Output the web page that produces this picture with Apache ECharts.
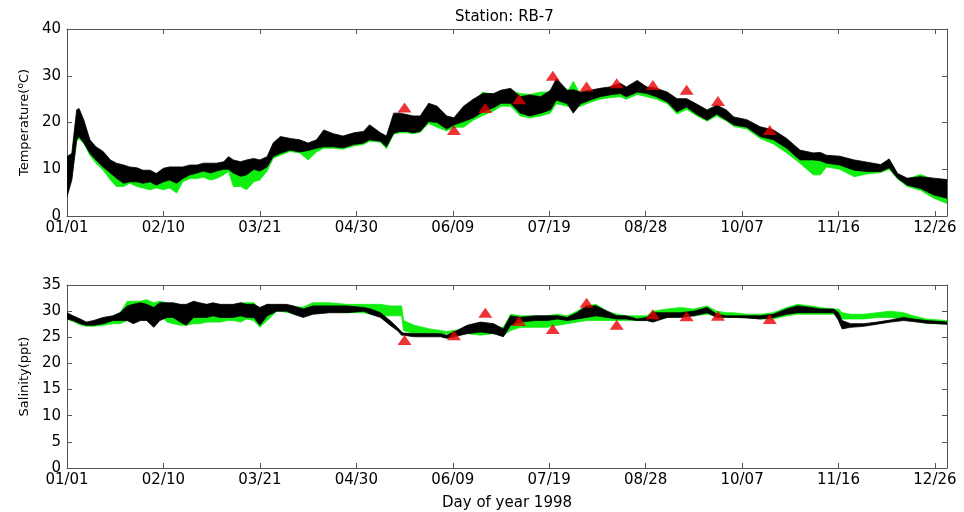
<!DOCTYPE html>
<html>
<head>
<meta charset="utf-8">
<script src="https://cdn.jsdelivr.net/npm/echarts@6/dist/echarts.min.js"></script>
<style>
  html, body { margin: 0; padding: 0; background: #fff; }
  #chart { width: 964px; height: 512px; }
</style>
</head>
<body>
<div id="chart"></div>
<script>
// Station RB-7, 1998: continuous sensor records (black, green) shown as daily ranges,
// plus discrete grab samples (red triangles).

const xTickLabels = ['01/01', '02/10', '03/21', '04/30', '06/09', '07/19', '08/28', '10/07', '11/16', '12/26'];

// ---- Temperature (deg C): day of year and low/high range of each record ----
const tempDays = [
  0, 2, 4, 5, 7, 9.5, 12, 15, 18, 20.5,
  23.5, 26, 29, 31.5, 34.5, 37, 40, 42.5, 45.5, 48,
  51, 54, 56.5, 59.5, 62, 65, 67, 69, 72, 74.5,
  77.5, 80, 83, 85.5, 88.5, 92.5, 96.5, 100, 103.5, 106.5,
  110.5, 114.5, 119, 123, 125.5, 130, 132.5, 135.5, 138, 141,
  143.5, 146.5, 150, 153.5, 157.5, 160.5, 164.5, 168.5, 172.5, 177,
  180, 184, 188, 192, 196.5, 200.5, 203, 207.5, 210, 213,
  217, 221, 225, 229.5, 232, 236.5, 240.5, 244.5, 249, 253,
  257, 261, 265.5, 269.5, 273.5, 276.5, 282, 287.5, 293, 298.5,
  304, 309.5, 312.5, 315, 320.5, 326.5, 332, 337.5, 341, 344.5,
  348.5, 354, 359.5, 365
];
const tempBlackLo = [
  4.1, 7.7, 16.3, 17, 15.6, 13.4, 12, 10.5, 9.2, 8.1,
  7, 7.3, 7.3, 7, 7.3, 6.6, 7.3, 7.7, 7, 8,
  8.8, 9.2, 9.6, 9.2, 9.6, 10, 10, 9.2, 8.5, 8.8,
  10, 9.6, 10.5, 12.7, 13.4, 14.1, 13.7, 14, 14.5, 14.8,
  14.8, 14.6, 15.3, 15.6, 16.3, 16, 14.8, 17.7, 18.1, 18.1,
  17.8, 18.1, 20.2, 20, 18.6, 19.5, 20.2, 21, 22.3, 23.2,
  24.1, 24.1, 22, 21.4, 22, 22.7, 24.8, 24, 22, 24,
  24.8, 25.5, 25.9, 26.2, 25.5, 26.5, 26.2, 25.5, 24.4, 22.3,
  23.3, 21.8, 20.5, 21.8, 20.5, 19.5, 19, 17, 16.3, 14.5,
  12, 12, 11.8, 11.3, 10.9, 9.8, 9.5, 9.5, 10.3, 8.1,
  6.6, 5.9, 4.5, 3.8
];
const tempBlackHi = [
  12.7, 13.4, 22.7, 23, 20.5, 16.3, 14.8, 13.8, 12, 11.3,
  10.9, 10.5, 10.3, 9.8, 9.8, 9.1, 10.2, 10.5, 10.5, 10.5,
  10.9, 10.9, 11.3, 11.3, 11.3, 11.6, 12.7, 12, 11.6, 12,
  12.3, 12, 12.7, 15.6, 17, 16.6, 16.3, 15.6, 16.3, 18.4,
  17.6, 17.1, 17.8, 18.1, 19.5, 17.8, 17.1, 22, 22, 21.7,
  21.4, 21.4, 24.1, 23.5, 21.4, 21, 23.5, 25, 26.2, 26.2,
  26.9, 27.3, 25.5, 25.9, 25.5, 26.9, 29.4, 26.9, 27, 26.5,
  26.9, 27.3, 27.6, 28.4, 27.6, 29, 27.6, 27.3, 26.5, 25.1,
  25.1, 24, 22.7, 23.7, 22.7, 21.2, 20.6, 19.1, 18.4, 16.6,
  14.1, 13.5, 13.6, 13, 12.8, 12, 11.5, 11, 12.2, 9.1,
  8.1, 8.4, 8.1, 7.8
];
const tempGreenLo = [
  5, 8, 16, 16.5, 15.5, 13, 11.3, 9.8, 7.7, 6.3,
  6.3, 7, 6.3, 6, 5.6, 6, 5.6, 6, 4.9, 7.3,
  8, 8, 8.3, 7.7, 8, 8.8, 9.5, 6.3, 6.3, 5.6,
  7.3, 7.7, 9.6, 12.3, 13, 13.8, 13.5, 12, 13.7, 14.5,
  14.5, 14.3, 15, 15.3, 16, 15.8, 14.4, 17.5, 17.8, 17.8,
  17.6, 17.9, 19.8, 19, 18.2, 19, 19, 20.5, 21.5, 22.5,
  23.5, 23.5, 21.4, 21, 21.4, 22, 24, 23.5, 23, 23.5,
  24.3, 25, 25.3, 25.5, 25, 26, 25.5, 25, 24, 21.8,
  22.8, 21.5, 20.3, 21.4, 20.3, 19.2, 18.6, 16.6, 15.4, 13.5,
  11.3, 8.8, 8.8, 10.5, 10, 8.4, 9, 9.3, 10, 7.9,
  6.3, 5.5, 3.8, 2.7
];
const tempGreenHi = [
  11, 12.5, 21, 21.5, 19.5, 16, 14, 13, 11.5, 10.5,
  10, 9.8, 9.5, 9, 9, 8.5, 9.5, 10, 9.5, 10,
  10.5, 10.5, 10.8, 10.8, 11, 11.2, 12.5, 11.5, 11, 11.5,
  11.8, 11.5, 12.5, 15, 16.5, 16.2, 16, 15.3, 16, 17.5,
  17.2, 16.8, 17.4, 17.8, 19, 17.5, 16.8, 21.5, 21.5, 21.2,
  21, 21, 23.5, 23, 21, 20.8, 23, 24.5, 26.5, 26,
  26.5, 26.8, 26.2, 26, 26.5, 26.5, 28.5, 26.5, 28.8, 26,
  26.5, 27, 27.2, 28, 27.2, 28.2, 27.3, 27, 26.2, 24.8,
  24.8, 23.7, 22.4, 23.4, 22.4, 21, 20.3, 18.8, 18, 16.3,
  13.8, 13.2, 13.2, 12.7, 12.5, 11.7, 11.2, 10.8, 12.2, 9,
  7.9, 8.9, 7.8, 7.3
];

// ---- Salinity (ppt) ----
const salDays = [
  0, 2.5, 5.5, 8, 11, 15, 19, 22, 25, 27.5,
  30.5, 33, 36, 38.5, 41.5, 44, 47, 49.5, 52.5, 55,
  58, 60.5, 63.5, 66.5, 69, 72, 74.5, 77.5, 80, 83,
  87, 91, 94, 98, 102, 109, 116, 123, 126, 130,
  134, 137, 138.8, 139.6, 144, 150.5, 155, 157.5, 160.5, 166,
  171.5, 177, 181, 184, 188, 194, 199, 203.5, 207.5, 211.5,
  215.5, 219.5, 224, 228, 232, 236.5, 240.5, 243, 249, 254.5,
  260, 265.5, 269.5, 273.5, 276.5, 282, 287.5, 293, 298.5, 303,
  308.5, 312.5, 318, 320, 321.5, 325, 330.5, 336, 341.5, 347,
  351, 356.5, 365
];
const salBlackLo = [
  28.5, 28.2, 27.6, 27.3, 27.3, 27.6, 28.2, 28.2, 28.2, 27.6,
  28.2, 28.2, 26.9, 28.2, 28.8, 28.8, 27.9, 27.3, 28.8, 28.8,
  28.8, 29.1, 28.8, 28.8, 28.8, 29.1, 28.8, 28.8, 27.3, 29.1,
  30, 30, 29.4, 28.8, 29.4, 29.7, 29.7, 30, 29.4, 28.8,
  27.3, 26.3, 25.4, 25.4, 25.1, 25.1, 25.1, 24.8, 25.1, 25.7,
  26, 25.7, 25.1, 27.3, 27.9, 28.2, 28.2, 28.5, 28.2, 28.5,
  28.8, 29.1, 28.8, 28.5, 28.5, 28.2, 28.2, 27.9, 28.8, 28.8,
  29.1, 29.7, 28.8, 28.8, 28.8, 28.7, 28.5, 28.8, 29.4, 29.7,
  29.7, 29.7, 29.7, 28.2, 26.6, 26.9, 27.1, 27.5, 27.9, 28.2,
  28, 27.7, 27.5
];
const salBlackHi = [
  29.7, 29.1, 28.5, 27.9, 28.2, 28.8, 29.1, 29.7, 31, 31.3,
  31.6, 31.3, 30.7, 31.6, 31.6, 31.6, 31.3, 31.3, 31.9, 31.6,
  31.3, 31.6, 31.3, 31.3, 31.3, 31.6, 31.3, 31.3, 30.7, 31.3,
  31.3, 31.3, 31, 30.4, 31, 31, 31, 30.7, 30.4, 29.7,
  28.2, 26.9, 26, 25.8, 25.7, 25.7, 25.7, 25.4, 26, 27.3,
  27.9, 27.6, 26.6, 29.1, 28.8, 29.1, 29.1, 29.1, 28.8, 29.7,
  31, 31, 30, 29.1, 29.1, 28.5, 28.8, 29.7, 29.7, 29.7,
  30, 30.7, 29.4, 29.1, 29.1, 29.1, 29.1, 29.4, 30.4, 31,
  30.7, 30.4, 30.4, 29.7, 28.2, 27.6, 27.6, 27.9, 28.3, 28.8,
  28.5, 28.2, 27.9
];
const salGreenLo = [
  28.5, 28, 27.4, 27.1, 27.1, 27.3, 27.6, 27.6, 28.2, 28.5,
  29.4, 28.8, 28.8, 29.4, 27.9, 27.6, 27.3, 27.3, 27.6, 27.6,
  27.9, 27.9, 27.9, 28.2, 28.2, 27.9, 28.5, 28.2, 26.9, 28.2,
  30, 29.8, 29.5, 29.5, 29.7, 30, 29.7, 29.7, 29.4, 29.1,
  29.1, 29.1, 29.1, 26.3, 25.7, 25.7, 25.7, 25.7, 25.7, 25.7,
  25.4, 25.7, 25.4, 26.3, 26.9, 26.9, 26.9, 27.3, 27.6, 27.9,
  28.2, 28.2, 28.2, 28.2, 28.2, 28.2, 28.2, 28.2, 28.8, 29.4,
  29.1, 29.4, 29.1, 28.8, 28.8, 28.8, 28.5, 28.5, 29.1, 29.4,
  29.4, 29.4, 29.4, 29.4, 28.5, 28.5, 28.5, 28.8, 28.8, 28.5,
  28.2, 27.7, 27.5
];
const salGreenHi = [
  29.4, 28.8, 28.3, 27.7, 28, 28.2, 29.1, 29.7, 31.9, 31.9,
  31.9, 32.2, 31.6, 31.9, 31.6, 30.7, 30, 29.4, 29.7, 29.7,
  29.7, 29.7, 30, 30, 30.4, 31.6, 31.6, 31.6, 30.4, 31.3,
  31, 31, 30.8, 30.8, 31.6, 31.6, 31.3, 31.3, 31.3, 31.3,
  31, 31, 31, 28.2, 27.3, 26.6, 26.3, 26.1, 26.3, 26.6,
  26.6, 26.9, 26.9, 29.4, 29.1, 29.1, 29.1, 29.4, 29.1, 30,
  31, 31.3, 30, 29.4, 29.1, 29.1, 29.1, 30, 30.4, 30.7,
  30.4, 31, 30, 29.7, 29.7, 29.4, 29.4, 29.7, 30.7, 31.3,
  31, 30.7, 30.4, 30.4, 29.7, 29.4, 29.4, 29.7, 30, 29.7,
  29.1, 28.5, 28.2
];

// ---- Discrete grab samples ----
const sampleDays = [140, 160.5, 173.5, 187.5, 201.5, 215.5, 228, 243, 257, 270, 291.5];
const sampleTemp = [23.2, 18.4, 23.1, 25, 30, 27.7, 28.4, 28, 27, 24.6, 18.4];
const sampleSal = [24.5, 25.4, 29.7, 28.1, 26.6, 31.6, 27.4, 29.4, 29, 29.1, 28.5];

const FONT = 'DejaVu Sans';
const FRAME = '#555';
const GREEN = '#10ee10';
const RED = '#e80000';

// Filled band between a low and a high record, projected through the axis scales.
function band(name, xi, yi, days, lo, hi, color, z) {
  return {
    name, type: 'custom', xAxisIndex: xi, yAxisIndex: yi, z, silent: true,
    clip: true,
    data: days.map((d, i) => [d, lo[i], hi[i]]),
    encode: { x: 0, y: [1, 2] },
    renderItem(params, api) {
      if (params.dataIndex !== 0) return null;
      const pts = [];
      for (let i = 0; i < days.length; i++) pts.push(api.coord([days[i], hi[i]]));
      for (let i = days.length - 1; i >= 0; i--) pts.push(api.coord([days[i], lo[i]]));
      return {
        type: 'polygon',
        shape: { points: pts },
        style: { fill: color, stroke: color, lineWidth: 0.8 }
      };
    }
  };
}

function xAxes(gridIndex) {
  const base = {
    type: 'value', gridIndex, min: 0, max: 365, interval: 40,
    splitLine: { show: false },
    axisLine: { show: true, onZero: false, lineStyle: { color: FRAME, width: 1 } },
    axisTick: { show: true, inside: true, length: 5, lineStyle: { color: FRAME } }
  };
  return [
    Object.assign({}, base, {
      position: 'bottom',
      axisLabel: {
        color: '#000', fontFamily: FONT, fontSize: 15, margin: 5,
        formatter: v => (Number.isInteger(v / 40) ? xTickLabels[v / 40] : '')
      }
    }),
    Object.assign({}, base, { position: 'top', axisLabel: { show: false } })
  ];
}

function yAxes(gridIndex, max, interval, name) {
  const base = {
    type: 'value', gridIndex, min: 0, max, interval,
    splitLine: { show: false },
    axisLine: { show: true, onZero: false, lineStyle: { color: FRAME, width: 1 } },
    axisTick: { show: true, inside: true, length: 5, lineStyle: { color: FRAME } }
  };
  return [
    Object.assign({}, base, {
      position: 'left',
      name, nameLocation: 'middle', nameGap: 34, nameRotate: 90,
      nameTextStyle: {
        color: '#000', fontFamily: FONT, fontSize: 13,
        rich: { sup: { fontFamily: FONT, fontSize: 9, padding: [0, 0, 7, 0] } }
      },
      axisLabel: { color: '#000', fontFamily: FONT, fontSize: 15, margin: 6 }
    }),
    Object.assign({}, base, { position: 'right', axisLabel: { show: false } })
  ];
}

const xa = xAxes(0).concat(xAxes(1));
xa[2].name = 'Day of year 1998';
xa[2].nameLocation = 'middle';
xa[2].nameGap = 28;
xa[2].nameTextStyle = { color: '#000', fontFamily: FONT, fontSize: 15 };

const ya = yAxes(0, 40, 10, 'Temperature({sup|o}C)').concat(yAxes(1, 35, 5, 'Salinity(ppt)'));

const chart = echarts.init(document.getElementById('chart'));
chart.setOption({
  animation: false,
  backgroundColor: '#fff',
  title: {
    text: 'Station: RB-7', left: 450, top: 5,
    textStyle: { color: '#000', fontFamily: FONT, fontSize: 15, fontWeight: 'normal' }
  },
  grid: [
    { left: 67, right: 17, top: 29, height: 187 },
    { left: 67, right: 17, top: 285, height: 188 }
  ],
  xAxis: xa,
  yAxis: ya,
  series: [
    band('Temperature sensor B', 0, 0, tempDays, tempGreenLo, tempGreenHi, GREEN, 2),
    band('Temperature sensor A', 0, 0, tempDays, tempBlackLo, tempBlackHi, '#000', 3),
    {
      name: 'Temperature samples', type: 'scatter', xAxisIndex: 0, yAxisIndex: 0, z: 5,
      symbol: 'triangle', symbolSize: [14, 10],
      itemStyle: { color: RED },
      data: sampleDays.map((d, i) => [d, sampleTemp[i]])
    },
    band('Salinity sensor B', 2, 2, salDays, salGreenLo, salGreenHi, GREEN, 2),
    band('Salinity sensor A', 2, 2, salDays, salBlackLo, salBlackHi, '#000', 3),
    {
      name: 'Salinity samples', type: 'scatter', xAxisIndex: 2, yAxisIndex: 2, z: 5,
      symbol: 'triangle', symbolSize: [14, 10],
      itemStyle: { color: RED },
      data: sampleDays.map((d, i) => [d, sampleSal[i]])
    }
  ]
});
</script>
</body>
</html>
